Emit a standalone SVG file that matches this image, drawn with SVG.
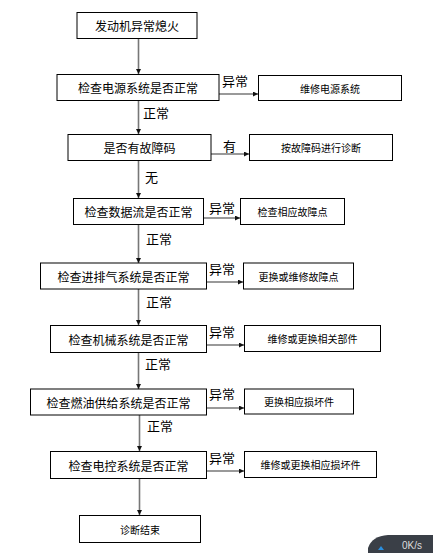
<svg xmlns="http://www.w3.org/2000/svg" width="433" height="553" viewBox="0 0 433 553">
<style>
.box{fill:#fff;stroke:#000;stroke-width:1}
.t{font-family:"Noto Sans CJK SC","Liberation Sans",sans-serif;font-size:12px;fill:#000;text-anchor:middle;dominant-baseline:central}
.s{font-family:"Noto Sans CJK SC","Liberation Sans",sans-serif;font-size:10px;fill:#000;text-anchor:middle;dominant-baseline:central}
.l{font-family:"Noto Sans CJK SC","Liberation Sans",sans-serif;font-size:13px;fill:#000;dominant-baseline:central}
.c{stroke:#777;stroke-width:1.6;fill:none;marker-end:url(#a)}
</style>
<defs>
<marker id="a" viewBox="0 0 10 10" refX="10" refY="5" markerWidth="5" markerHeight="5" markerUnits="userSpaceOnUse" orient="auto">
<path d="M0,0 L10,5 L0,10 z" fill="#111"/>
</marker>
</defs>
<rect width="433" height="553" fill="#fff"/>
<g id="connectors">
<line class="c" x1="138.5" y1="38" x2="138.5" y2="74"/>
<line class="c" x1="219" y1="94" x2="258" y2="94"/>
<line class="c" x1="138.5" y1="100" x2="138.5" y2="134"/>
<line class="c" x1="211" y1="154" x2="249" y2="154"/>
<line class="c" x1="138.5" y1="160" x2="138.5" y2="198"/>
<line class="c" x1="203" y1="218" x2="240" y2="218"/>
<line class="c" x1="138.5" y1="224" x2="138.5" y2="263"/>
<line class="c" x1="207" y1="282" x2="243" y2="282"/>
<line class="c" x1="138.5" y1="289" x2="138.5" y2="325"/>
<line class="c" x1="207" y1="345" x2="244" y2="345"/>
<line class="c" x1="138.5" y1="352" x2="138.5" y2="389"/>
<line class="c" x1="207" y1="408" x2="244" y2="408"/>
<line class="c" x1="139.5" y1="415" x2="139.5" y2="451"/>
<line class="c" x1="207" y1="471" x2="244" y2="471"/>
<line class="c" x1="139.5" y1="478" x2="139.5" y2="515"/>
<text class="l" x="222" y="80">异常</text>
<text class="l" x="143" y="112">正常</text>
<text class="l" x="223" y="145">有</text>
<text class="l" x="145" y="176">无</text>
<text class="l" x="209" y="207">异常</text>
<text class="l" x="146" y="238">正常</text>
<text class="l" x="209" y="268">异常</text>
<text class="l" x="146" y="301">正常</text>
<text class="l" x="209" y="331">异常</text>
<text class="l" x="145" y="363">正常</text>
<text class="l" x="209" y="393">异常</text>
<text class="l" x="147" y="425">正常</text>
<text class="l" x="209" y="457">异常</text>
</g>
<g id="n1"><rect class="box" x="77" y="12.5" width="120" height="26"/><text class="t" x="137" y="25.5">发动机异常熄火</text></g>
<g id="n2"><rect class="box" x="57" y="74.5" width="162" height="26"/><text class="t" x="138" y="87.5">检查电源系统是否正常</text></g>
<g id="n2r"><rect class="box" x="258.5" y="75.5" width="143" height="25"/><text class="s" x="330" y="88">维修电源系统</text></g>
<g id="n3"><rect class="box" x="68" y="134.5" width="143" height="26"/><text class="t" x="139.5" y="147.5">是否有故障码</text></g>
<g id="n3r"><rect class="box" x="249.5" y="134.5" width="143" height="26"/><text class="s" x="321" y="147.5">按故障码进行诊断</text></g>
<g id="n4"><rect class="box" x="73.5" y="198.5" width="130" height="26"/><text class="t" x="138.5" y="211.5">检查数据流是否正常</text></g>
<g id="n4r"><rect class="box" x="240.5" y="198.5" width="104" height="26"/><text class="s" x="292.5" y="211.5">检查相应故障点</text></g>
<g id="n5"><rect class="box" x="40.5" y="263" width="166" height="26"/><text class="t" x="123.5" y="276">检查进排气系统是否正常</text></g>
<g id="n5r"><rect class="box" x="243.5" y="263" width="110" height="26"/><text class="s" x="298.5" y="276">更换或维修故障点</text></g>
<g id="n6"><rect class="box" x="50.5" y="325.5" width="156" height="27"/><text class="t" x="128.5" y="339">检查机械系统是否正常</text></g>
<g id="n6r"><rect class="box" x="244.5" y="325.5" width="136" height="26"/><text class="s" x="312.5" y="338.5">维修或更换相关部件</text></g>
<g id="n7"><rect class="box" x="30.5" y="389" width="176" height="26"/><text class="t" x="118.5" y="402">检查燃油供给系统是否正常</text></g>
<g id="n7r"><rect class="box" x="244.5" y="389" width="109" height="25"/><text class="s" x="299" y="401.5">更换相应损坏件</text></g>
<g id="n8"><rect class="box" x="50.5" y="451.5" width="156" height="27"/><text class="t" x="128.5" y="465">检查电控系统是否正常</text></g>
<g id="n8r"><rect class="box" x="244.5" y="451.5" width="132" height="26"/><text class="s" x="310.5" y="464.5">维修或更换相应损坏件</text></g>
<g id="n9"><rect class="box" x="79.5" y="515.5" width="121" height="27"/><text class="s" x="140" y="529">诊断结束</text></g>
<g id="widget">
<path d="M368,553 L368,548 Q372,536 388,535 L433,535 L433,553 z" fill="#3a3f47"/>
<path d="M381,546 L378,550 L384,550 z" fill="#2a8fe0"/>
<text x="402" y="549" font-family="Liberation Sans,sans-serif" font-size="10" fill="#ddd">0K/s</text>
</g>
</svg>
